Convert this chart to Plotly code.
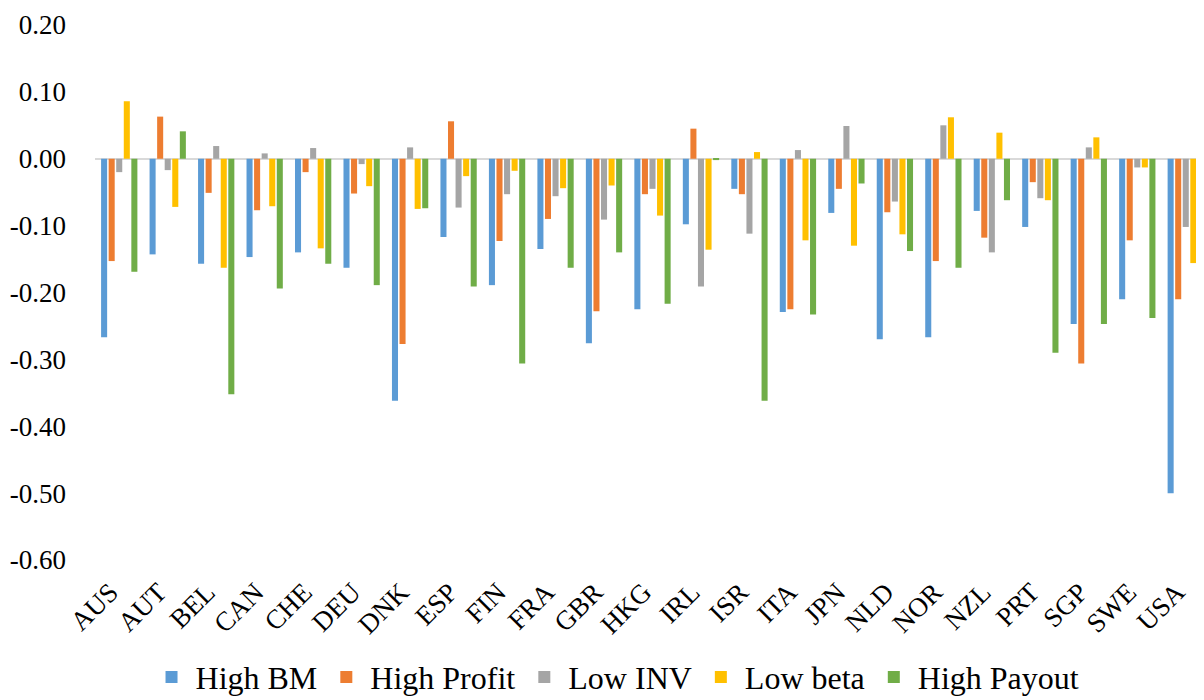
import plotly.graph_objects as go

countries = ["AUS", "AUT", "BEL", "CAN", "CHE", "DEU", "DNK", "ESP", "FIN", "FRA", "GBR", "HKG",
             "IRL", "ISR", "ITA", "JPN", "NLD", "NOR", "NZL", "PRT", "SGP", "SWE", "USA"]

high_bm = [-0.267, -0.143, -0.157, -0.147, -0.140, -0.163, -0.362, -0.117, -0.189, -0.135, -0.276, -0.225,
           -0.098, -0.045, -0.229, -0.081, -0.270, -0.267, -0.078, -0.102, -0.247, -0.210, -0.500]
high_profit = [-0.153, 0.063, -0.051, -0.077, -0.020, -0.052, -0.277, 0.056, -0.123, -0.090, -0.228, -0.053,
               0.045, -0.053, -0.225, -0.045, -0.080, -0.153, -0.118, -0.035, -0.306, -0.122, -0.210]
low_inv = [-0.020, -0.017, 0.019, 0.008, 0.016, -0.008, 0.017, -0.073, -0.053, -0.056, -0.091, -0.045,
           -0.191, -0.112, 0.013, 0.049, -0.064, 0.050, -0.140, -0.059, 0.017, -0.013, -0.102]
low_beta = [0.086, -0.072, -0.163, -0.071, -0.134, -0.041, -0.075, -0.026, -0.018, -0.044, -0.040, -0.085,
            -0.136, 0.010, -0.122, -0.130, -0.113, 0.062, 0.039, -0.062, 0.032, -0.013, -0.156]
high_payout = [-0.169, 0.041, -0.352, -0.194, -0.157, -0.189, -0.074, -0.191, -0.306, -0.163, -0.140, -0.217,
               -0.002, -0.362, -0.233, -0.037, -0.138, -0.163, -0.062, -0.290, -0.247, -0.238, -0.262]

y_tick_vals = [0.2, 0.1, 0.0, -0.1, -0.2, -0.3, -0.4, -0.5, -0.6]
y_tick_text = ["0.20", "0.10", "0.00", "-0.10", "-0.20", "-0.30", "-0.40", "-0.50", "-0.60"]

series = [
    ("High BM", high_bm, "#5B9BD5"),
    ("High Profit", high_profit, "#ED7D31"),
    ("Low INV", low_inv, "#A5A5A5"),
    ("Low beta", low_beta, "#FFC000"),
    ("High Payout", high_payout, "#70AD47"),
]

fig = go.Figure()
for name, vals, color in series:
    fig.add_trace(go.Bar(x=countries, y=vals, name=name, marker=dict(color=color, line=dict(width=0))))

font_family = "Liberation Serif"
fig.update_layout(
    width=1204, height=700,
    margin=dict(l=81, r=2, t=12, b=148),
    paper_bgcolor="white", plot_bgcolor="white",
    barmode="group", bargap=0.22, bargroupgap=0.2,
    font=dict(family=font_family, size=27, color="black"),
    showlegend=True,
    legend=dict(orientation="h", xref="container", yref="container", x=0.505, xanchor="center",
                y=0.044, yanchor="middle", font=dict(family=font_family, size=32),
                itemwidth=38, tracegroupgap=0),
)
fig.update_yaxes(range=[-0.6, 0.2], tickmode="array", tickvals=y_tick_vals, ticktext=y_tick_text,
                 showgrid=False, zeroline=True, zerolinecolor="#D9D9D9", zerolinewidth=2,
                 showline=False, ticks="", ticklabelstandoff=28, ticklabeloverflow="allow",
                 tickfont=dict(family=font_family, size=27))
fig.update_xaxes(tickangle=-45, showgrid=False, showline=False, ticks="", ticklabelstandoff=10,
                 ticklabelshift=-9, tickfont=dict(family=font_family, size=27))

fig.write_html("out.html")
